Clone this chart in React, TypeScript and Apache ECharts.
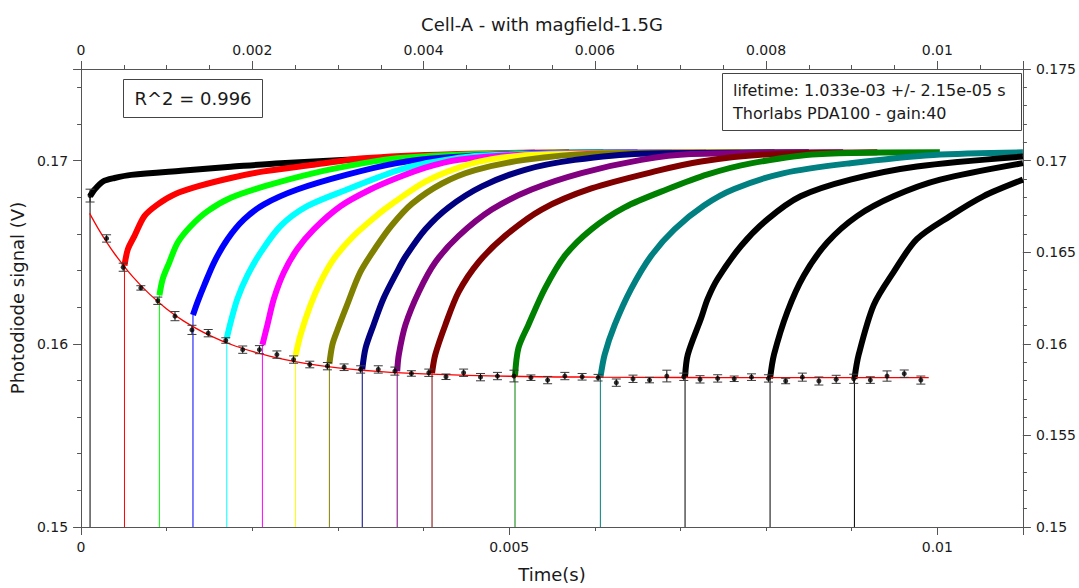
import React, { useEffect, useRef } from "react";
import * as echarts from "echarts";

const chartTitle = "Cell-A - with magfield-1.5G";
const xName = "Time(s)";
const yName = "Photodiode signal (V)";
const fitNote = "R^2 = 0.996";
const infoLines = ["lifetime: 1.033e-03 +/- 2.15e-05 s", "Thorlabs PDA100 - gain:40"];

const xMin = 0;
const xMax = 0.011;
const yMin = 0.15;
const yMax = 0.175;
const bottomLabels = [0, 0.005, 0.01];
const topLabels = [0, 0.002, 0.004, 0.006, 0.008, 0.01];
const leftLabels = [0.15, 0.16, 0.17];
const rightLabels = [0.15, 0.155, 0.16, 0.165, 0.17, 0.175];

const curveColors = [
  "#000000", "#ff0000", "#00ff00", "#0000ff", "#00ffff", "#ff00ff", "#ffff00", "#808000",
  "#000080", "#800080", "#800000", "#008000", "#008080", "#000000", "#000000", "#000000",
];

const c01 = [[0.000105,0.16805],[0.000158,0.16842],[0.000256,0.16886],[0.000391,0.16905],[0.000585,0.16922],[0.001167,0.16945],[0.001749,0.16966],[0.00233,0.16986],[0.003106,0.17004],[0.0041,0.17025],[0.00505,0.1704],[0.0053,0.17043]];
const c02 = [[0.000507,0.16427],[0.000547,0.16517],[0.000624,0.16589],[0.00074,0.16697],[0.000896,0.16761],[0.001089,0.16815],[0.001361,0.16859],[0.001749,0.16905],[0.002136,0.16941],[0.002718,0.16977],[0.0033,0.17013],[0.00433,0.17035],[0.0057,0.17045]];
const c03 = [[0.000915,0.16265],[0.000954,0.16355],[0.001031,0.16445],[0.001129,0.16553],[0.001283,0.16643],[0.001478,0.16724],[0.001749,0.16797],[0.002136,0.16859],[0.002718,0.16932],[0.0033,0.16986],[0.003688,0.17013],[0.004564,0.17035],[0.0061,0.17045]];
const c04 = [[0.001307,0.16157],[0.001361,0.16229],[0.001438,0.16319],[0.001554,0.16445],[0.00171,0.16571],[0.001903,0.16679],[0.002136,0.16761],[0.002525,0.16842],[0.003106,0.16923],[0.003688,0.16986],[0.004215,0.17015],[0.005146,0.17038],[0.0065,0.17045]];
const c05 = [[0.001702,0.16031],[0.001749,0.16121],[0.001827,0.16247],[0.001943,0.16373],[0.002098,0.16499],[0.00233,0.16643],[0.002641,0.16751],[0.003106,0.16842],[0.003688,0.16945],[0.004017,0.16985],[0.004681,0.17028],[0.0069,0.17045]];
const c06 = [[0.002118,0.15995],[0.002176,0.16103],[0.002252,0.16247],[0.002369,0.16391],[0.002525,0.16517],[0.002718,0.16625],[0.003029,0.16751],[0.003378,0.16842],[0.003688,0.16905],[0.004021,0.16962],[0.00441,0.17005],[0.005379,0.17036],[0.0073,0.17045]];
const c07 = [[0.002505,0.15935],[0.002563,0.16049],[0.002679,0.16211],[0.002796,0.16337],[0.002951,0.16463],[0.003183,0.16589],[0.003494,0.16716],[0.003634,0.16765],[0.004021,0.16885],[0.00441,0.16962],[0.004797,0.17008],[0.005379,0.17033],[0.0077,0.17045]];
const c08 = [[0.0029,0.1589],[0.002935,0.15995],[0.002994,0.16075],[0.003106,0.16211],[0.003261,0.16391],[0.003455,0.16535],[0.003634,0.1665],[0.003866,0.16765],[0.004215,0.16875],[0.004603,0.16948],[0.005184,0.17004],[0.00596,0.17038],[0.0081,0.17045]];
const c09 = [[0.003284,0.1586],[0.003323,0.15977],[0.003416,0.16103],[0.003532,0.16247],[0.003688,0.16391],[0.003788,0.16475],[0.004021,0.16625],[0.004293,0.16745],[0.004681,0.16859],[0.005184,0.1695],[0.005766,0.17004],[0.006542,0.17038],[0.0085,0.17045]];
const c10 = [[0.003692,0.1585],[0.003711,0.15941],[0.003788,0.16103],[0.003944,0.16283],[0.004137,0.16445],[0.00441,0.16589],[0.004797,0.16733],[0.005262,0.16842],[0.005844,0.16932],[0.006542,0.17004],[0.007124,0.17036],[0.0089,0.17045]];
const c11 = [[0.004099,0.1584],[0.004137,0.15941],[0.004254,0.16103],[0.00441,0.16283],[0.004642,0.16445],[0.004952,0.16589],[0.005379,0.16733],[0.00596,0.16848],[0.006737,0.16945],[0.007241,0.16995],[0.007939,0.17032],[0.0093,0.17045]];
const c12 = [[0.005068,0.15824],[0.005108,0.15977],[0.005224,0.16103],[0.005417,0.16301],[0.00565,0.16481],[0.00596,0.16625],[0.006348,0.16745],[0.006853,0.16845],[0.007318,0.16925],[0.007822,0.16985],[0.008598,0.17035],[0.01003,0.17045]];
const c13 = [[0.006065,0.15815],[0.006115,0.15941],[0.006232,0.16103],[0.006426,0.16301],[0.006659,0.16481],[0.00693,0.16625],[0.007275,0.16755],[0.007628,0.16845],[0.00821,0.16932],[0.008985,0.16986],[0.009955,0.17031],[0.011,0.17045]];
const c14 = [[0.007054,0.1582],[0.007086,0.15941],[0.007241,0.16139],[0.007318,0.16245],[0.007435,0.16355],[0.00771,0.16535],[0.008016,0.16679],[0.008403,0.16805],[0.008985,0.16896],[0.009761,0.16968],[0.011,0.17022]];
const c15 = [[0.008047,0.15811],[0.008093,0.15941],[0.008249,0.16175],[0.008442,0.16373],[0.008714,0.16553],[0.009063,0.16697],[0.009489,0.16805],[0.010033,0.16896],[0.011,0.16986]];
const c16 = [[0.009032,0.15809],[0.009082,0.15941],[0.009257,0.16211],[0.009489,0.16391],[0.009761,0.16571],[0.010149,0.16697],[0.010537,0.16805],[0.011,0.16896]];
const curves = [c01, c02, c03, c04, c05, c06, c07, c08, c09, c10, c11, c12, c13, c14, c15, c16];

const pointTimes = [0.000105,0.000298,0.000492,0.000698,0.000896,0.001097,0.001295,0.001485,0.00169,0.001888,0.002083,0.002287,0.002482,0.002671,0.002877,0.003072,0.003265,0.003471,0.003665,0.003858,0.004061,0.004262,0.004468,0.004665,0.004863,0.005056,0.005254,0.005449,0.00565,0.005852,0.006038,0.006251,0.006446,0.006639,0.006841,0.007039,0.007229,0.007435,0.007628,0.00783,0.008028,0.008229,0.008424,0.008617,0.008819,0.009024,0.009218,0.009413,0.009614,0.009808];
const pointValues = [0.16809,0.16575,0.16418,0.16305,0.16235,0.16151,0.16076,0.16058,0.16018,0.15968,0.15968,0.15941,0.15914,0.15887,0.15878,0.15872,0.1586,0.1586,0.15851,0.15838,0.15842,0.1582,0.15842,0.15818,0.15824,0.15824,0.15815,0.15802,0.15824,0.1582,0.15815,0.15788,0.15809,0.15802,0.15824,0.1582,0.15806,0.15811,0.15809,0.15818,0.15811,0.15797,0.15818,0.15797,0.15806,0.15809,0.15802,0.15824,0.15837,0.15802];
const pointErrors = [0.00035,0.0002,0.00022,0.00012,0.0002,0.00025,0.00025,0.0002,0.00015,0.0002,0.00022,0.0002,0.0002,0.00018,0.0002,0.00018,0.0002,0.0002,0.00022,0.00015,0.0002,0.00015,0.0002,0.0002,0.0002,0.00032,0.00015,0.0002,0.0002,0.00018,0.00018,0.0002,0.0002,0.00015,0.00032,0.0002,0.0002,0.0002,0.00015,0.00018,0.0002,0.00015,0.00022,0.00022,0.00022,0.00025,0.00018,0.00028,0.0002,0.00022];

const fitTimes = [0.0001,0.0002,0.0003,0.0004,0.0006,0.0008,0.001,0.0012,0.0015,0.0018,0.0022,0.0026,0.003,0.0035,0.004,0.005,0.006,0.007,0.008,0.0099];
const fitValues = [0.16712,0.16629,0.16554,0.16486,0.16368,0.16271,0.1619,0.16124,0.16046,0.15988,0.15933,0.15895,0.15869,0.15848,0.15836,0.15823,0.15818,0.15816,0.15815,0.15815];

const FONT = "DejaVu Sans";
const AXIS_COLOR = "#555555";
const TEXT_COLOR = "#1a1a1a";

function labelFormatter(list: number[]) {
  return (v: number) => {
    const hit = list.find((l) => Math.abs(l - v) < 1e-9);
    return hit === undefined ? "" : String(hit);
  };
}

function makeAxis(opts: any) {
  return {
    type: "value",
    min: opts.min,
    max: opts.max,
    interval: opts.interval,
    position: opts.position,
    gridIndex: 0,
    splitLine: { show: false },
    axisLine: { show: true, onZero: false, lineStyle: { color: AXIS_COLOR, width: 1 } },
    axisTick: { show: true, inside: false, length: opts.tickLen, lineStyle: { color: AXIS_COLOR, width: 1 } },
    axisLabel: opts.labels
      ? {
          show: true,
          margin: opts.margin,
          color: TEXT_COLOR,
          fontFamily: FONT,
          fontSize: 14,
          formatter: labelFormatter(opts.labels),
          showMaxLabel: true,
          showMinLabel: true,
        }
      : { show: false },
    ...(opts.extra || {}),
  };
}

export default function App() {
  const ref = useRef<HTMLDivElement>(null);

  useEffect(() => {
    if (!ref.current) return;
    const chart = echarts.init(ref.current, null, { renderer: "svg" });

    const series: any[] = [];
    curves.forEach((c, i) => {
      series.push({
        type: "line",
        name: "drop" + (i + 1),
        xAxisIndex: 0,
        yAxisIndex: 0,
        data: [[c[0][0], yMin], [c[0][0], c[0][1]]],
        showSymbol: false,
        symbol: "none",
        lineStyle: { color: curveColors[i], width: 1 },
        z: 2,
        silent: true,
      });
      series.push({
        type: "line",
        name: "trace" + (i + 1),
        xAxisIndex: 0,
        yAxisIndex: 0,
        data: c,
        showSymbol: false,
        symbol: "none",
        smooth: 0.3,
        lineStyle: { color: curveColors[i], width: 6, cap: "butt", join: "round" },
        z: 2,
        silent: true,
      });
    });

    series.push({
      type: "line",
      name: "fit",
      xAxisIndex: 0,
      yAxisIndex: 0,
      data: fitTimes.map((t, i) => [t, fitValues[i]]),
      showSymbol: false,
      symbol: "none",
      smooth: 0.4,
      lineStyle: { color: "#ff0000", width: 1.3 },
      z: 3,
      silent: true,
    });

    series.push({
      type: "custom",
      name: "errors",
      xAxisIndex: 0,
      yAxisIndex: 0,
      data: pointTimes.map((t, i) => [t, pointValues[i], pointErrors[i]]),
      renderItem: (_params: any, api: any) => {
        const x = api.value(0);
        const y = api.value(1);
        const e = api.value(2);
        const top = api.coord([x, y + e]);
        const bot = api.coord([x, y - e]);
        const half = 4.5;
        const st = { stroke: "#3a3a3a", lineWidth: 1 };
        return {
          type: "group",
          children: [
            { type: "line", shape: { x1: top[0], y1: top[1], x2: bot[0], y2: bot[1] }, style: { stroke: "#111", lineWidth: 1 } },
            { type: "line", shape: { x1: top[0] - half, y1: top[1], x2: top[0] + half, y2: top[1] }, style: st },
            { type: "line", shape: { x1: bot[0] - half, y1: bot[1], x2: bot[0] + half, y2: bot[1] }, style: st },
          ],
        };
      },
      z: 4,
      silent: true,
    });

    series.push({
      type: "scatter",
      name: "points",
      xAxisIndex: 0,
      yAxisIndex: 0,
      data: pointTimes.map((t, i) => [t, pointValues[i]]),
      symbol: "circle",
      symbolSize: 5,
      itemStyle: { color: "#000000" },
      z: 5,
      silent: true,
    });

    const option: any = {
      animation: false,
      backgroundColor: "#ffffff",
      textStyle: { fontFamily: FONT },
      grid: { left: 78, top: 69, width: 945, height: 462, containLabel: false },
      xAxis: [
        makeAxis({
          min: xMin, max: xMax, interval: 0.005, position: "bottom", tickLen: 8, labels: bottomLabels, margin: 13,
          extra: {
            name: xName,
            nameLocation: "middle",
            nameGap: 38,
            nameTextStyle: { fontFamily: FONT, fontSize: 18, color: TEXT_COLOR },
          },
        }),
        makeAxis({ min: xMin, max: xMax, interval: 0.001, position: "bottom", tickLen: 4 }),
        makeAxis({ min: xMin, max: xMax, interval: 0.002, position: "top", tickLen: 8, labels: topLabels, margin: 12 }),
        makeAxis({ min: xMin, max: xMax, interval: 0.0005, position: "top", tickLen: 4 }),
      ],
      yAxis: [
        makeAxis({
          min: yMin, max: yMax, interval: 0.01, position: "left", tickLen: 8, labels: leftLabels, margin: 13,
          extra: {
            name: yName,
            nameLocation: "middle",
            nameGap: 49,
            nameRotate: 90,
            nameTextStyle: { fontFamily: FONT, fontSize: 18, color: TEXT_COLOR },
          },
        }),
        makeAxis({ min: yMin, max: yMax, interval: 0.002, position: "left", tickLen: 4 }),
        makeAxis({ min: yMin, max: yMax, interval: 0.005, position: "right", tickLen: 8, labels: rightLabels, margin: 13 }),
        makeAxis({ min: yMin, max: yMax, interval: 0.001, position: "right", tickLen: 4 }),
      ],
      graphic: [
        {
          type: "text",
          x: 542,
          y: 24,
          style: { text: chartTitle, fontFamily: FONT, fontSize: 18, fill: TEXT_COLOR, textAlign: "center", textVerticalAlign: "middle" },
          z: 10,
        },
        {
          type: "rect",
          shape: { x: 123.5, y: 79.5, width: 139, height: 38 },
          style: { fill: "#ffffff", stroke: "#444444", lineWidth: 1 },
          z: 10,
        },
        {
          type: "text",
          x: 193,
          y: 98.5,
          style: { text: fitNote, fontFamily: FONT, fontSize: 18, fill: TEXT_COLOR, textAlign: "center", textVerticalAlign: "middle" },
          z: 11,
        },
        {
          type: "rect",
          shape: { x: 722.5, y: 73.5, width: 299, height: 57 },
          style: { fill: "#ffffff", stroke: "#444444", lineWidth: 1 },
          z: 10,
        },
        {
          type: "text",
          x: 733,
          y: 90.5,
          style: { text: infoLines[0], fontFamily: FONT, fontSize: 16, fill: TEXT_COLOR, textAlign: "left", textVerticalAlign: "middle" },
          z: 11,
        },
        {
          type: "text",
          x: 733,
          y: 113.5,
          style: { text: infoLines[1], fontFamily: FONT, fontSize: 16, fill: TEXT_COLOR, textAlign: "left", textVerticalAlign: "middle" },
          z: 11,
        },
      ],
      series,
    };

    chart.setOption(option);
    return () => {
      chart.dispose();
    };
  }, []);

  return (
    <div
      ref={ref}
      style={{ position: "absolute", left: 0, top: 0, width: 1079, height: 588, background: "#ffffff" }}
    />
  );
}
